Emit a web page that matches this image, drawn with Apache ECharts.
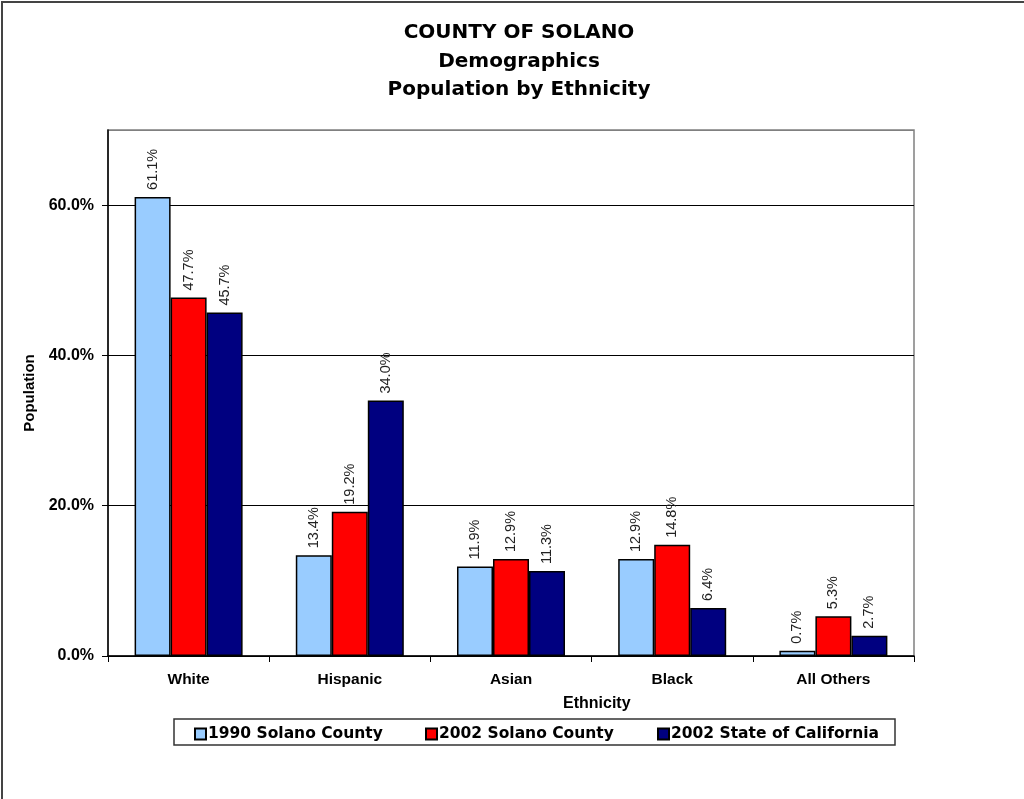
<!DOCTYPE html>
<html>
<head>
<meta charset="utf-8">
<script src="https://cdn.jsdelivr.net/npm/echarts@6/dist/echarts.min.js"></script>
<style>
  html, body { margin: 0; padding: 0; background: #fff; }
  #MyChart { width: 1024px; height: 799px; }
</style>
</head>
<body>
<div id="MyChart"></div>
<script>
//分类和数据
var categories = ['White', 'Hispanic', 'Asian', 'Black', 'All Others'];
var seriesNames = ['1990 Solano County', '2002 Solano County', '2002 State of California'];
var solano1990 = [61.1, 13.4, 11.9, 12.9, 0.7];
var solano2002 = [47.7, 19.2, 12.9, 14.8, 5.3];
var california2002 = [45.7, 34.0, 11.3, 6.4, 2.7];
var yTicks = [0, 20, 40, 60];

var colorList = ['#99CCFF', '#FF0000', '#000080'];
var font = 'Liberation Sans, Arial, sans-serif';
var wideFont = 'DejaVu Sans, Verdana, sans-serif';

//柱子系列
function makeSeries(name, data, color) {
    return {
        name: name,
        type: 'bar',
        barGap: '0%',
        barCategoryGap: '33%',
        itemStyle: { color: color, borderColor: '#000', borderWidth: 1.5 },
        label: {
            show: true,
            position: 'top',
            rotate: 90,
            align: 'left',
            verticalAlign: 'middle',
            distance: 7,
            color: '#222',
            fontFamily: font,
            fontSize: 14.5,
            formatter: function (p) { return p.value.toFixed(1) + '%'; }
        },
        data: data
    };
}

//单个图例，固定位置
function makeLegend(name, left) {
    return {
        left: left,
        top: 726,
        padding: 0,
        itemWidth: 11,
        itemHeight: 11,
        icon: 'rect',
        textStyle: { fontFamily: wideFont, fontWeight: 'bold', fontSize: 15.5, lineHeight: 16, color: '#000', padding: [0, 0, 0, -3] },
        data: [name]
    };
}

var myChart = echarts.init(document.getElementById('MyChart'));
var option = {
    backgroundColor: '#fff',
    animation: false,
    title: {
        left: 514,
        textAlign: 'center',
        top: 14,
        text: 'COUNTY OF SOLANO\nDemographics\nPopulation by Ethnicity',
        textStyle: { fontFamily: wideFont, fontWeight: 'bold', fontSize: 20, lineHeight: 28.5, color: '#000' }
    },
    legend: [
        makeLegend(seriesNames[0], 194),
        makeLegend(seriesNames[1], 425),
        makeLegend(seriesNames[2], 657)
    ],
    graphic: [
        {
            type: 'rect',
            shape: { x: 2, y: 2, width: 1030, height: 1000 },
            style: { fill: 'none', stroke: '#444', lineWidth: 2 },
            silent: true
        },
        {
            type: 'rect',
            shape: { x: 174, y: 719, width: 721, height: 26 },
            style: { fill: 'none', stroke: '#333', lineWidth: 1.5 },
            silent: true,
            z: -1
        },
        {
            type: 'text',
            left: 563,
            top: 696,
            style: { text: 'Ethnicity', fontFamily: font, fontWeight: 'bold', fontSize: 16, fill: '#000' }
        }
    ],
    grid: {
        left: 108,
        right: 110,
        top: 130,
        bottom: 143,
        show: true,
        borderColor: '#808080',
        borderWidth: 1.5,
        backgroundColor: '#fff'
    },
    xAxis: {
        type: 'category',
        data: categories,
        axisLine: { lineStyle: { color: '#000', width: 1.5 } },
        axisTick: { show: true, length: 6, lineStyle: { color: '#000' } },
        axisLabel: { fontFamily: font, fontWeight: 'bold', fontSize: 15.5, color: '#000', margin: 16 }
    },
    yAxis: {
        type: 'value',
        min: 0,
        max: 70,
        interval: 20,
        name: 'Population',
        nameLocation: 'middle',
        nameGap: 70,
        nameTextStyle: { fontFamily: font, fontWeight: 'bold', fontSize: 15, color: '#000' },
        axisLine: { show: true, lineStyle: { color: '#000', width: 1.5 } },
        axisTick: { show: true, length: 6, lineStyle: { color: '#000' } },
        splitLine: { lineStyle: { color: ['#000', '#000', '#000', '#000', '#808080'], width: 1 } },
        axisLabel: {
            fontFamily: font, fontWeight: 'bold', fontSize: 16, color: '#000', margin: 14,
            showMaxLabel: false,
            formatter: function (v) { return yTicks.indexOf(v) >= 0 ? v.toFixed(1) + '%' : ''; }
        }
    },
    series: [
        makeSeries(seriesNames[0], solano1990, colorList[0]),
        makeSeries(seriesNames[1], solano2002, colorList[1]),
        makeSeries(seriesNames[2], california2002, colorList[2])
    ]
};
myChart.setOption(option);
</script>
</body>
</html>
